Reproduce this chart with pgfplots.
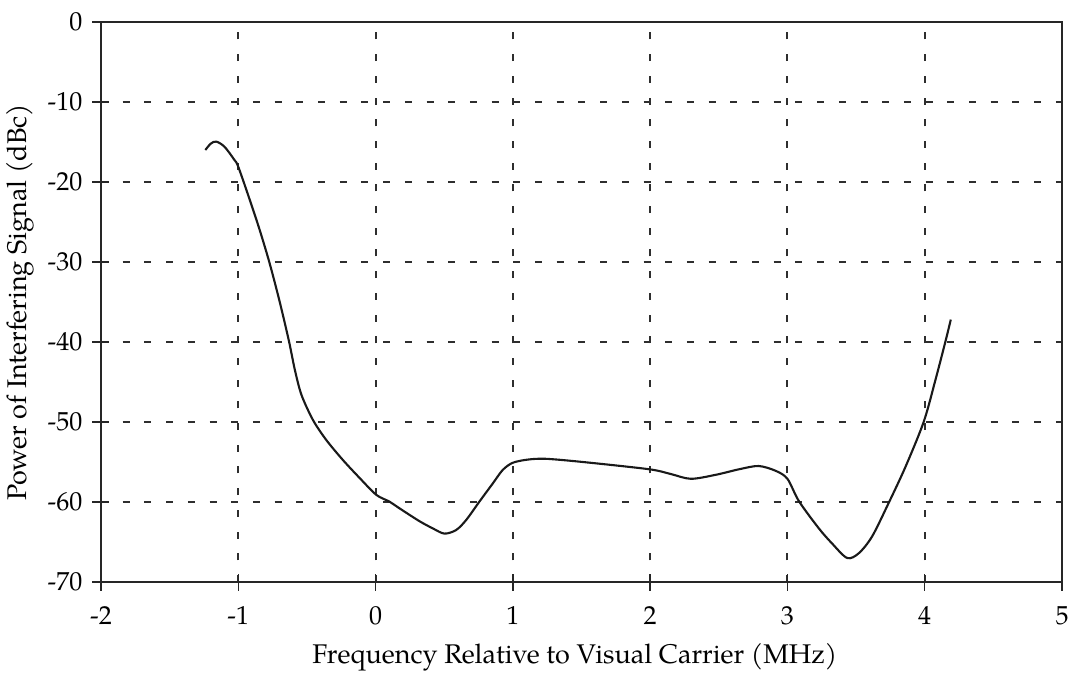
\documentclass[border=0pt]{standalone}
\usepackage{fontspec}
\setmainfont{TeX Gyre Pagella}
\usepackage{pgfplots}
\pgfplotsset{compat=1.18}

\pgfplotstableread{
x      y
-1.24  -16.0
-1.20  -15.2
-1.16  -14.95
-1.10  -15.6
-1.03  -17.2
-1.00  -18.1
-0.916 -22.25
-0.844 -26.0
-0.771 -30.2
-0.698 -35.0
-0.63  -39.96
-0.589 -43.4
-0.54  -46.6
-0.456 -49.75
-0.359 -52.25
-0.238 -54.75
-0.116 -57.0
0.005  -59.1
0.102  -59.96
0.175  -60.8
0.32   -62.4
0.417  -63.3
0.502  -63.95
0.587  -63.5
0.66   -62.25
0.756  -59.96
0.853  -57.7
0.926  -56.0
0.999  -55.1
1.108  -54.7
1.24   -54.6
1.51   -55.0
1.99   -55.9
2.15   -56.5
2.296  -57.1
2.478  -56.6
2.65   -55.9
2.79   -55.5
2.914  -56.1
3.00   -57.1
3.084  -59.9
3.229  -63.3
3.326  -65.2
3.435  -67.0
3.52   -66.4
3.617  -64.3
3.738  -60.1
3.86   -55.6
3.993  -49.96
4.078  -44.75
4.15   -40.0
4.19   -37.2
}\interference

\begin{document}
\begin{tikzpicture}
\begin{axis}[
  scale only axis,
  width=961bp, height=560bp,
  xmin=-2, xmax=5, ymin=-70, ymax=0,
  xtick={-2,-1,...,5},
  ytick={-70,-60,...,0},
  tick pos=left,
  tick align=center,
  major tick length=17bp,
  axis line style={line width=1.6bp, black!85},
  every tick/.style={line width=1.4bp, black!85},
  grid=major,
  major grid style={line width=2bp, black!82, dash pattern=on 7bp off 14.7bp},
  /pgf/number format/assume math mode=true,
  ticklabel style={font=\fontsize{26bp}{31bp}\selectfont},
  yticklabel style={anchor=east, inner sep=0pt, xshift=-10bp},
  xticklabel style={anchor=base, inner sep=0pt, yshift=-34bp},
  every axis x label/.style={at={(axis description cs:0.493,-0.134)}, anchor=center},
  every axis y label/.style={at={(axis description cs:-0.0843,0.5)}, rotate=90, anchor=center},
  label style={font=\fontsize{27bp}{32bp}\selectfont},
  xlabel={Frequency Relative to Visual Carrier (MHz)},
  ylabel={Power of Interfering Signal (dBc)},
]
\addplot[line width=2.1bp, black!90, smooth, tension=0.5] table[x=x, y=y] {\interference};
\end{axis}
\path (current axis.south west) ++(-101bp,-107bp) rectangle ++(1073bp,689bp);
\end{tikzpicture}
\end{document}
